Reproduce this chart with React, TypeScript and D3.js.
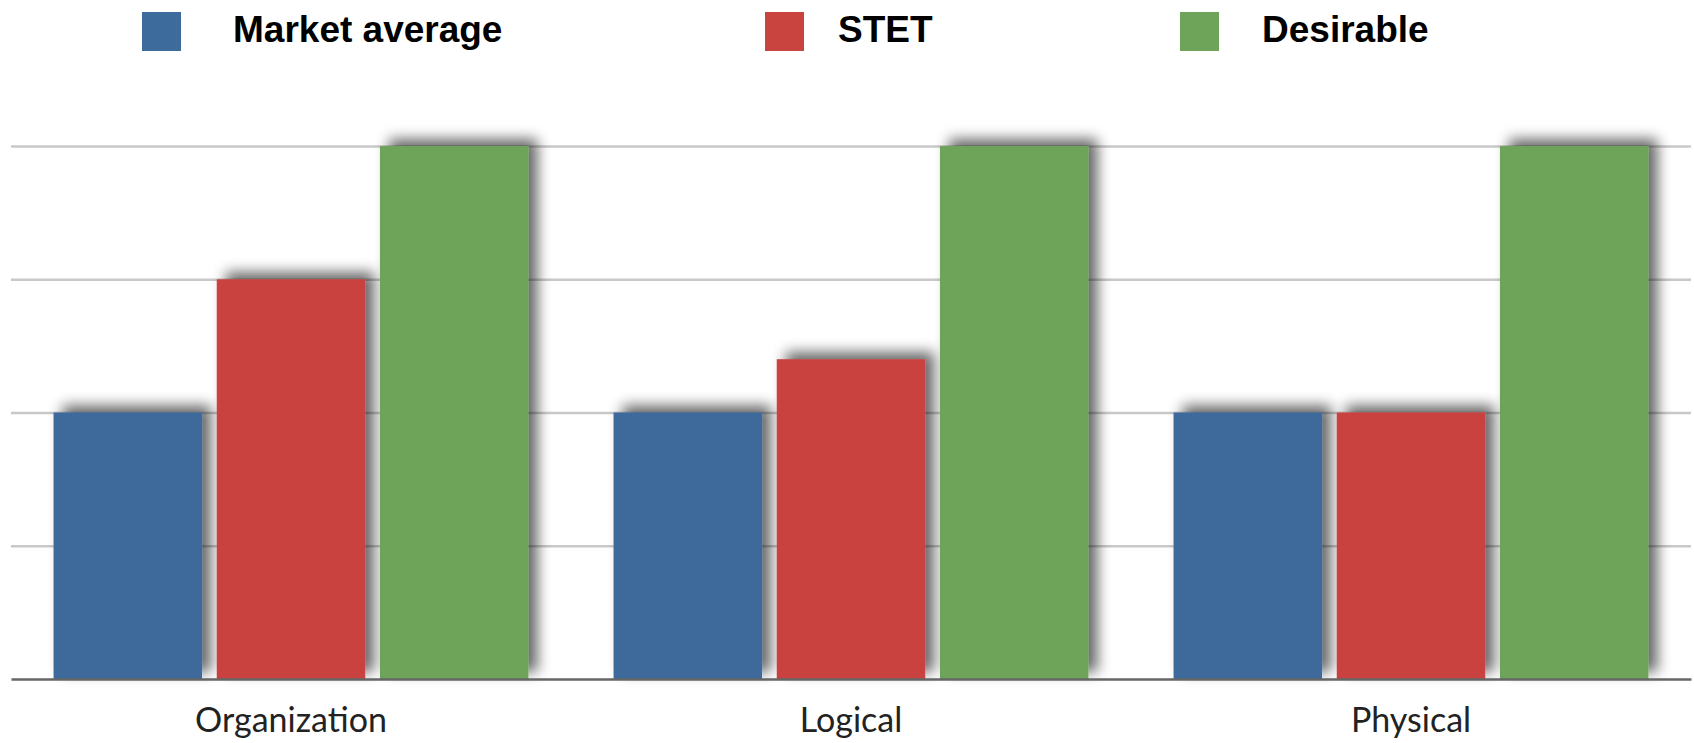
import React, { useEffect, useRef } from 'react';
import * as d3 from 'd3';

const categories: string[] = ['Organization', 'Logical', 'Physical'];
const seriesNames: string[] = ['Market average', 'STET', 'Desirable'];
const marketAverage: number[] = [2, 2, 2];
const stet: number[] = [3, 2.4, 2];
const desirable: number[] = [4, 4, 4];
const gridTicks: number[] = [1, 2, 3, 4];

const colors: string[] = ['#3d6b9b', '#c9433f', '#6ea45a'];

interface BarDatum {
    category: string;
    series: string;
    value: number;
}

const App: React.FC = () => {
    const svgRef = useRef<SVGSVGElement>(null);

    useEffect(() => {
        if (!svgRef.current) return;

        d3.select(svgRef.current).selectAll('*').remove();

        const width = 1694;
        const height = 743;
        const plot = { left: 11, right: 1691, top: 146, bottom: 679 };

        const svg = d3.select(svgRef.current)
            .attr('width', width)
            .attr('height', height);

        // Soft drop shadow used by the bars
        const defs = svg.append('defs');
        const filter = defs.append('filter')
            .attr('id', 'barShadow')
            .attr('x', '-20%')
            .attr('y', '-20%')
            .attr('width', '140%')
            .attr('height', '140%');
        filter.append('feGaussianBlur')
            .attr('in', 'SourceAlpha')
            .attr('stdDeviation', 7);
        filter.append('feOffset')
            .attr('dx', 9)
            .attr('dy', -7)
            .attr('result', 'offsetBlur');
        filter.append('feComponentTransfer')
            .append('feFuncA')
            .attr('type', 'linear')
            .attr('slope', 0.6);
        const merge = filter.append('feMerge');
        merge.append('feMergeNode');
        merge.append('feMergeNode').attr('in', 'SourceGraphic');

        const allSeries: number[][] = [marketAverage, stet, desirable];
        const bars: BarDatum[] = [];
        categories.forEach((c, ci) => {
            seriesNames.forEach((s, si) => {
                bars.push({ category: c, series: s, value: allSeries[si][ci] });
            });
        });

        const x0 = d3.scaleBand<string>()
            .domain(categories)
            .range([plot.left, plot.right])
            .paddingInner(0.152)
            .paddingOuter(0.076);

        const x1 = d3.scaleBand<string>()
            .domain(seriesNames)
            .range([0, x0.bandwidth()])
            .paddingInner(0.09);

        const y = d3.scaleLinear()
            .domain([0, 4])
            .range([plot.bottom, plot.top]);

        const color = d3.scaleOrdinal<string, string>()
            .domain(seriesNames)
            .range(colors);

        // Grid lines
        const grid = svg.append('g')
            .attr('transform', `translate(${plot.left},0)`)
            .call(d3.axisLeft(y)
                .tickValues(gridTicks)
                .tickSize(-(plot.right - plot.left))
                .tickFormat(() => ''));
        grid.select('.domain').remove();
        grid.selectAll('.tick line')
            .attr('stroke', '#c8c8c8')
            .attr('stroke-width', 2.5);

        // Bars
        svg.append('g')
            .selectAll('rect')
            .data(bars)
            .enter().append('rect')
            .attr('x', d => (x0(d.category) as number) + (x1(d.series) as number))
            .attr('y', d => y(d.value))
            .attr('width', x1.bandwidth())
            .attr('height', d => y(0) - y(d.value))
            .attr('fill', d => color(d.series))
            .attr('filter', 'url(#barShadow)');

        // Baseline and category labels
        const xAxis = svg.append('g')
            .attr('transform', `translate(0,${plot.bottom})`)
            .call(d3.axisBottom(x0).tickSize(0).tickPadding(0));
        xAxis.select('.domain')
            .attr('stroke', '#666')
            .attr('stroke-width', 2.5);
        xAxis.selectAll('.tick text')
            .attr('y', 53)
            .attr('dy', 0)
            .attr('fill', '#222')
            .style('font-family', 'Lato, "Noto Sans", sans-serif')
            .style('font-size', '34px');

        // Legend
        const legendSquareX: number[] = [142, 765, 1180];
        const legendTextX: number[] = [233, 838, 1262];
        const legend = svg.append('g')
            .selectAll('g')
            .data(seriesNames)
            .enter().append('g');

        legend.append('rect')
            .attr('x', (_, i) => legendSquareX[i])
            .attr('y', 12)
            .attr('width', 39)
            .attr('height', 39)
            .attr('fill', d => color(d));

        legend.append('text')
            .attr('x', (_, i) => legendTextX[i])
            .attr('y', 42)
            .attr('fill', '#000')
            .style('font-family', '"Liberation Sans", Arial, sans-serif')
            .style('font-weight', 'bold')
            .style('font-size', '37px')
            .text(d => d);

    }, []);

    return (
        <svg ref={svgRef} style={{ position: 'absolute', left: 0, top: 0, display: 'block' }}></svg>
    );
};

export default App;
